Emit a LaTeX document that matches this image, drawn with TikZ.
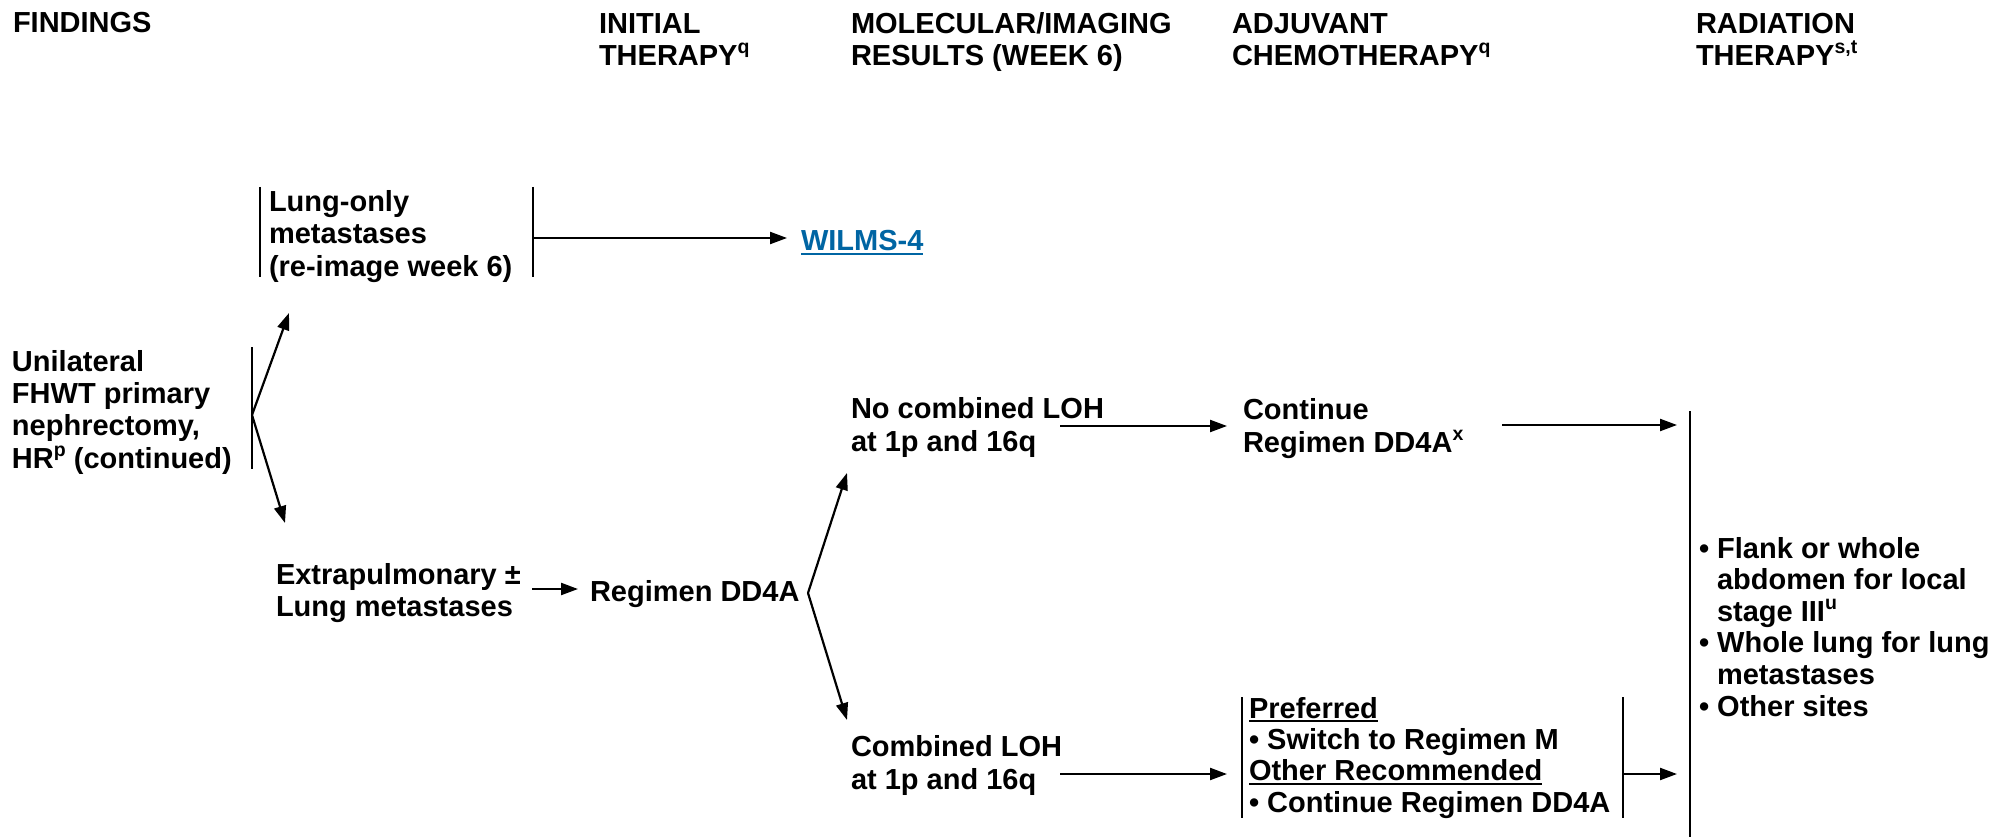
\documentclass[tikz,border=0pt]{standalone}
\usepackage{fontspec}
\setmainfont{Liberation Sans}
\usetikzlibrary{arrows.meta}
\definecolor{linkblue}{RGB}{0,101,163}
% small raised footnote letters
\newcommand\tsup[1]{\raisebox{0.40em}{\fontsize{19.5}{19.5}\selectfont #1}}
% thick underline sitting just below the baseline
\newsavebox\ulbox
\newcommand\uln[1]{\sbox\ulbox{#1}\rlap{\rule[-4pt]{\wd\ulbox}{2.2pt}}\usebox\ulbox}
\begin{document}
\begin{tikzpicture}[x=1pt,y=1pt,
  % nodes are placed by the baseline of their last line
  every node/.style={inner sep=0pt, outer sep=0pt, anchor=base west, align=left,
    font=\bfseries\fontsize{29}{32.3}\selectfont},
  tight/.style={font=\bfseries\fontsize{29}{31.3}\selectfont},
  bar/.style={line width=2.2pt},
  arr/.style={line width=2.2pt, -{Triangle[length=17pt,width=12pt]}},
]
\useasboundingbox (0,0) rectangle (1997,-837);

% column headings
\node (hFind) at (13,-33) {FINDINGS};
\node (hInit) at (599,-65.5) {INITIAL\\THERAPY\tsup{q}};
\node (hMol)  at (851,-65.5) {MOLECULAR/IMAGING\\RESULTS (WEEK 6)};
\node (hAdj)  at (1232,-65.5) {ADJUVANT\\CHEMOTHERAPY\tsup{q}};
\node (hRad)  at (1696,-65.5) {RADIATION\\THERAPY\tsup{s,t}};

% findings
\node (uni) at (12,-468) {Unilateral\\FHWT primary\\nephrectomy,\\HR\tsup{p} (continued)};
\coordinate (uniT) at (252,-347);
\coordinate (uniB) at (252,-469);
\coordinate (fork1) at (252,-415);
\draw[bar] (uniT) -- (uniB);

% lung-only branch
\node (lung) at (269,-276) {Lung-only\\metastases\\(re-image week 6)};
\coordinate (lungLT) at (260,-187);
\coordinate (lungLB) at (260,-277);
\coordinate (lungRT) at (533,-187);
\coordinate (lungRB) at (533,-277);
\draw[bar] (lungLT) -- (lungLB);
\draw[bar] (lungRT) -- (lungRB);
\coordinate (lungIn) at (289,-313);
\draw[arr] (fork1) -- (lungIn);

\node (wilms) at (801,-251) {\color{linkblue}\uln{WILMS-4}};
\coordinate (lungOut) at (533,-238);
\draw[arr, shorten >=14pt] (lungOut) -- (lungOut -| wilms.west);

% extrapulmonary branch
\node[tight] (extra) at (276,-616) {Extrapulmonary ±\\Lung metastases};
\coordinate (extraIn) at (285,-523);
\draw[arr] (fork1) -- (extraIn);

\node (dd4a) at (590,-601) {Regimen DD4A};
\coordinate (extraOut) at (532,-589);
\draw[arr, shorten >=12pt] (extraOut) -- (extraOut -| dd4a.west);

% week 6 results
\coordinate (fork2) at (808,-593);
\node (noloh) at (851,-451) {No combined LOH\\at 1p and 16q};
\node (loh)   at (851,-789) {Combined LOH\\at 1p and 16q};
\coordinate (nolohIn) at (847,-473);
\coordinate (lohIn) at (847,-720);
\draw[arr] (fork2) -- (nolohIn);
\draw[arr] (fork2) -- (lohIn);

% adjuvant chemotherapy
\node (cont) at (1243,-452) {Continue\\Regimen DD4A\tsup{x}};
\coordinate (nolohOut) at (1060,-426);
\draw[arr, shorten >=16pt] (nolohOut) -- (nolohOut -| cont.west);

\node[tight] (chemo) at (1249,-812) {\uln{Preferred}\\• Switch to Regimen M\\\uln{Other Recommended}\\• Continue Regimen DD4A};
\coordinate (chemoLT) at (1242,-697);
\coordinate (chemoLB) at (1242,-818);
\coordinate (chemoRT) at (1623,-697);
\coordinate (chemoRB) at (1623,-818);
\draw[bar] (chemoLT) -- (chemoLB);
\draw[bar] (chemoRT) -- (chemoRB);
\coordinate (lohOut) at (1060,-774);
\draw[arr, shorten >=15pt] (lohOut) -- (lohOut -| chemoLT);

% radiation therapy
\coordinate (radT) at (1690,-411);
\coordinate (radB) at (1690,-837);
\draw[bar] (radT) -- (radB);
\node[font=\bfseries\fontsize{29}{31.6}\selectfont] (rad) at (1699,-716)
  {• Flank or whole\\\hspace*{18pt}abdomen for local\\\hspace*{18pt}stage III\tsup{u}\\• Whole lung for lung\\\hspace*{18pt}metastases\\• Other sites};

\coordinate (contOut) at (1502,-425);
\draw[arr, shorten >=13pt] (contOut) -- (contOut -| radT);
\coordinate (chemoOut) at (1623,-774);
\draw[arr, shorten >=13pt] (chemoOut) -- (chemoOut -| radT);
\end{tikzpicture}
\end{document}
